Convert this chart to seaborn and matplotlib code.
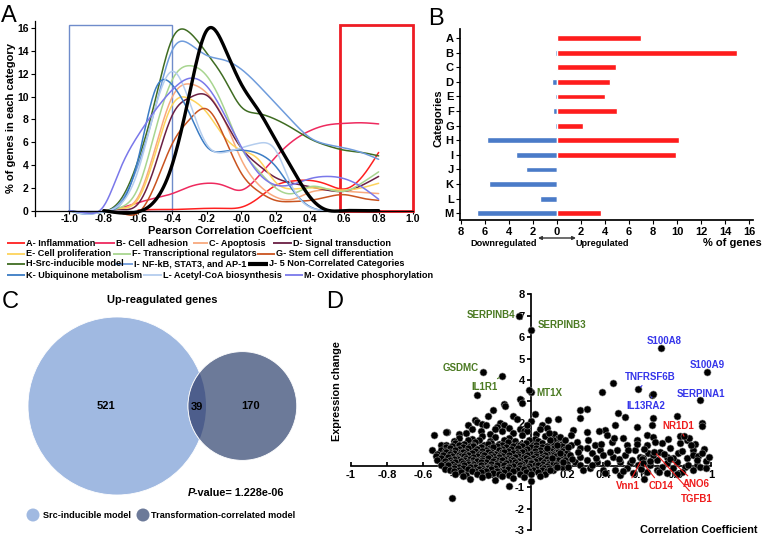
import numpy as np
import pandas as pd
import matplotlib
matplotlib.use('Agg')
import matplotlib.pyplot as plt
import seaborn as sns
from matplotlib.patches import Circle, Rectangle

sns.set_theme(style='white')
plt.rcParams['font.family'] = ['Liberation Sans', 'DejaVu Sans']
plt.rcParams.update({'text.color': 'black', 'axes.labelcolor': 'black',
                     'xtick.color': 'black', 'ytick.color': 'black',
                     'axes.edgecolor': 'black'})

# ---------------- DATA ----------------
# Panel A: % of genes per category vs Pearson correlation (values at 0.1 steps)
corr_grid = [-1.0, -0.9, -0.8, -0.7, -0.6, -0.5, -0.4, -0.3, -0.2, -0.1,
             0.0, 0.1, 0.2, 0.3, 0.4, 0.5, 0.6, 0.7, 0.8]
nan = np.nan
cat_A = [nan, nan, nan, nan, 0.05, 0.1, 0.1, 0.15, 0.2, 0.2, 0.3, 1.1, 2.2, 2.6, 2.65, 2.3, 1.9, 2.9, 5.1]
cat_B = [nan, nan, 0.0, 0.25, 0.7, 1.1, 1.5, 2.1, 2.4, 2.2, 1.8, 3.0, 4.7, 6.1, 7.0, 7.5, 7.65, 7.7, 7.6]
cat_C = [nan, nan, 0.0, 0.2, 1.2, 5.5, 10.0, 11.1, 10.3, 8.0, 4.5, 2.3, 1.2, 1.0, 1.6, 1.8, 1.7, 1.6, 1.5]
cat_D = [nan, nan, 0.0, 0.1, 0.6, 4.0, 8.4, 9.9, 10.1, 8.0, 5.5, 4.0, 2.9, 2.4, 2.1, 1.8, 1.7, 2.2, 3.0]
cat_E = [nan, nan, 0.0, 0.2, 1.0, 5.0, 9.3, 9.8, 8.6, 6.5, 5.3, 4.5, 2.5, 1.9, 2.0, 1.9, 1.8, 2.0, 2.4]
cat_F = [nan, nan, 0.0, 0.3, 2.0, 7.0, 11.5, 12.7, 11.8, 9.0, 5.5, 3.5, 2.0, 1.5, 2.1, 1.9, 1.7, 2.4, 3.4]
cat_G = [nan, nan, 0.0, -0.2, -0.2, 2.3, 5.9, 8.0, 8.9, 6.5, 3.3, 1.7, 0.9, 0.8, 0.9, 1.2, 1.4, 1.1, 0.9]
cat_H = [0.0, -0.2, -0.1, 1.0, 4.4, 9.7, 15.1, 15.6, 13.8, 11.6, 9.1, 8.5, 8.0, 7.2, 6.3, 5.7, 5.3, 5.1, 4.8]
cat_I = [0.0, -0.25, -0.1, 0.8, 4.0, 9.0, 14.1, 14.6, 13.6, 13.2, 12.4, 11.0, 9.4, 7.8, 6.4, 5.8, 5.5, 5.1, 4.5]
cat_J = [nan, nan, 0.0, -0.2, -0.1, 0.9, 4.1, 10.3, 15.8, 14.4, 11.1, 8.8, 6.2, 3.6, 1.2, 0.05, 0.0, 0.0, 0.0]
cat_K = [0.0, -0.3, -0.1, 0.6, 4.5, 10.6, 11.0, 8.5, 5.6, 5.2, 5.3, 5.0, 3.9, 1.8, 0.35, 0.0, 0.0, 0.0, 0.0]
cat_L = [0.0, -0.3, -0.1, 0.6, 3.5, 9.0, 12.2, 9.5, 5.8, 5.1, 5.5, 5.9, 5.3, 2.0, 0.3, 0.0, 0.0, 0.0, 0.0]
cat_M = [0.0, -0.2, 0.4, 3.8, 6.6, 8.8, 10.6, 11.6, 10.9, 8.5, 5.6, 3.3, 2.25, 2.3, 2.8, 3.0, 2.8, 2.1, 1.0]

legend_labels = ['A- Inflammation', 'B- Cell adhesion', 'C- Apoptosis', 'D- Signal transduction',
                 'E- Cell proliferation', 'F- Transcriptional regulators', 'G- Stem cell differentiation',
                 'H-Src-inducible model', 'I- NF-kB, STAT3, and AP-1', 'J- 5 Non-Correlated Categories',
                 'K- Ubiquinone metabolism', 'L- Acetyl-CoA biosynthesis', 'M- Oxidative phosphorylation']
cat_colors = ['#ff2020', '#ee2a5e', '#f8a97e', '#6a1f43', '#fdd35c', '#a8d590', '#c9531f',
              '#3f6c22', '#6f9cdc', '#000000', '#3b7cc4', '#b4cdee', '#7a78ea']

# Panel B: % of genes up/down regulated per category
categories = list('ABCDEFGHIJKLM')
up_pct = [7.0, 15.0, 4.9, 4.4, 4.0, 5.0, 2.2, 10.2, 9.9, 0.0, 0.0, 0.0, 3.7]
down_pct = [0.1, 0.15, 0.1, 0.45, 0.15, 0.3, 0.2, 5.85, 3.4, 2.55, 5.65, 1.45, 6.65]
down_colors = ['#b8cdea', '#4a7bc8', '#b8cdea', '#4a7bc8', '#4a7bc8', '#4a7bc8', '#4a7bc8',
               '#4a7bc8', '#4a7bc8', '#4a7bc8', '#4a7bc8', '#4a7bc8', '#4a7bc8']
b_ticks = [-8, -6, -4, -2, 0, 2, 4, 6, 8, 10, 12, 14, 16]

# Panel C: Venn counts
venn_only_src = 521
venn_both = 39
venn_only_tr = 170

# Panel D: labelled genes
genes = ['SERPINB4', 'SERPINB3', 'GSDMC', 'IL1R1', 'MT1X',
         'S100A8', 'S100A9', 'TNFRSF6B', 'IL13RA2', 'SERPINA1',
         'NR1D1', 'Vnn1', 'CD14', 'TGFB1', 'ANO6']
gene_corr = [-0.065, 0.0, -0.265, -0.163, -0.01, 0.721, 0.977, 0.597, 0.68, 0.939,
             0.85, 0.615, 0.62, 0.686, 0.773]
gene_expr = [7.0, 6.34, 4.39, 4.19, 3.52, 5.51, 4.39, 3.58, 3.33, 3.07,
             1.38, 0.3, 0.14, 0.65, 0.3]
gene_group = ['g', 'g', 'g', 'g', 'g', 'b', 'b', 'b', 'b', 'b', 'r', 'r', 'r', 'r', 'r']

# Panel D: other genes (correlation, expression change)
other_pts = [
    # upper tail / left fringe
    (-0.3, 3.3), (-0.06, 3.1), (-0.05, 2.95), (-0.15, 2.9), (-0.145, 2.8), (-0.21, 2.6),
    (-0.24, 2.3), (-0.31, 2.13), (-0.3, 2.05), (-0.27, 1.96), (-0.25, 1.88), (-0.17, 1.98),
    (-0.15, 1.9), (-0.1, 2.3), (-0.08, 2.2), (-0.06, 1.7), (-0.04, 1.6), (-0.02, 1.62),
    (0.0, 2.1), (0.02, 2.4), (0.0, 3.45), (-0.19, 1.8), (-0.35, 1.9), (-0.4, 1.5),
    (-0.465, 1.59), (-0.54, 1.43), (-0.47, 1.58), (-0.55, 0.73), (-0.5, 0.97), (-0.43, 0.9),
    (-0.12, 1.75), (0.06, 1.9), (-0.44, -1.5), (-0.12, -0.95), (0.0, -0.7), (-0.2, -0.65),
    (-0.33, 1.7), (-0.28, 1.6), (-0.23, 1.5), (-0.2, 1.7), (-0.1, 1.55), (-0.02, 1.9),
    (0.03, 1.5), (0.09, 1.75), (0.13, 1.5),
    # dense cloud
    (-0.4, 1.3), (-0.33, 1.25), (-0.27, 1.4), (-0.2, 1.35), (-0.12, 1.3), (-0.05, 1.45),
    (0.02, 1.25), (0.08, 1.4), (0.15, 1.3), (-0.36, 1.55), (-0.16, 1.6), (0.05, 1.7), (0.1, 1.55),
    (-0.43, 1.15), (-0.35, 1.18), (-0.29, 1.2), (-0.23, 1.15), (-0.15, 1.2), (-0.09, 1.15),
    (-0.01, 1.18), (0.04, 1.15), (0.12, 1.18),
    (-0.47, 0.95), (-0.42, 1.05), (-0.37, 1.0), (-0.31, 1.1), (-0.26, 0.95), (-0.22, 1.05),
    (-0.18, 1.0), (-0.13, 1.1), (-0.08, 0.98), (-0.03, 1.05), (0.01, 0.95), (0.06, 1.08),
    (0.11, 1.0), (0.17, 1.02), (0.22, 0.95),
    (-0.4, 0.96), (-0.32, 0.98), (-0.24, 1.0), (-0.16, 0.95), (-0.06, 0.97), (0.03, 0.95), (0.13, 0.97),
    (-0.44, 0.9), (-0.34, 0.92), (-0.28, 0.88), (-0.19, 0.93), (-0.1, 0.9), (0.0, 0.88),
    (0.09, 0.92), (0.15, 0.9),
    (-0.47, 0.86), (-0.38, 0.88), (-0.32, 0.9), (-0.23, 0.84), (-0.14, 0.87), (-0.05, 0.9),
    (0.06, 0.86), (0.17, 0.9),
    (-0.5, 0.75), (-0.45, 0.82), (-0.4, 0.78), (-0.35, 0.85), (-0.3, 0.8), (-0.25, 0.75),
    (-0.21, 0.86), (-0.16, 0.8), (-0.11, 0.76), (-0.07, 0.84), (-0.02, 0.79), (0.03, 0.82),
    (0.08, 0.75), (0.13, 0.85), (0.19, 0.8),
    (-0.48, 0.68), (-0.42, 0.72), (-0.36, 0.7), (-0.27, 0.68), (-0.18, 0.72), (-0.13, 0.68),
    (-0.04, 0.7), (0.05, 0.72), (0.11, 0.68), (0.17, 0.7),
    (-0.45, 0.66), (-0.39, 0.62), (-0.31, 0.67), (-0.22, 0.65), (-0.16, 0.66), (-0.08, 0.64),
    (0.02, 0.67), (0.08, 0.63), (0.14, 0.66),
    (-0.52, 0.55), (-0.47, 0.62), (-0.43, 0.58), (-0.38, 0.64), (-0.33, 0.6), (-0.29, 0.55),
    (-0.24, 0.63), (-0.2, 0.57), (-0.15, 0.62), (-0.1, 0.58), (-0.05, 0.64), (0.0, 0.57),
    (0.05, 0.6), (0.1, 0.55), (0.15, 0.63), (0.2, 0.58),
    (-0.45, 0.55), (-0.36, 0.56), (-0.27, 0.57), (-0.22, 0.54), (-0.07, 0.55), (0.03, 0.56), (0.12, 0.57),
    (-0.49, 0.48), (-0.4, 0.52), (-0.35, 0.5), (-0.26, 0.48), (-0.17, 0.52), (-0.12, 0.5),
    (-0.02, 0.48), (0.08, 0.52), (0.13, 0.5),
    (-0.53, 0.45), (-0.44, 0.47), (-0.39, 0.45), (-0.3, 0.46), (-0.21, 0.47), (-0.16, 0.45),
    (-0.07, 0.46), (0.03, 0.45), (0.14, 0.47), (0.18, 0.45),
    (-0.5, 0.38), (-0.46, 0.42), (-0.41, 0.37), (-0.37, 0.44), (-0.32, 0.4), (-0.27, 0.36),
    (-0.23, 0.43), (-0.18, 0.39), (-0.13, 0.35), (-0.09, 0.43), (-0.04, 0.4), (0.01, 0.36),
    (0.06, 0.42), (0.11, 0.38), (0.16, 0.44), (0.21, 0.4),
    (-0.41, 0.33), (-0.36, 0.35), (-0.24, 0.34), (-0.11, 0.33), (-0.03, 0.35), (0.07, 0.34),
    (-0.52, 0.28), (-0.43, 0.32), (-0.34, 0.3), (-0.29, 0.28), (-0.2, 0.32), (-0.15, 0.3),
    (-0.06, 0.28), (0.04, 0.32), (0.09, 0.3), (0.19, 0.28),
    (-0.45, 0.26), (-0.37, 0.25), (-0.32, 0.27), (-0.27, 0.25), (-0.18, 0.26), (-0.1, 0.25),
    (-0.01, 0.27), (0.05, 0.25), (0.15, 0.26),
    (-0.48, 0.2), (-0.44, 0.15), (-0.39, 0.22), (-0.35, 0.18), (-0.3, 0.24), (-0.25, 0.16),
    (-0.21, 0.2), (-0.16, 0.25), (-0.12, 0.17), (-0.07, 0.22), (-0.03, 0.15), (0.02, 0.24),
    (0.07, 0.18), (0.12, 0.22), (0.17, 0.16),
    (-0.42, 0.15), (-0.33, 0.14), (-0.28, 0.16), (-0.19, 0.14), (-0.09, 0.15), (0.0, 0.16), (0.1, 0.15),
    (-0.47, 0.1), (-0.38, 0.12), (-0.32, 0.08), (-0.22, 0.1), (-0.14, 0.12), (-0.05, 0.08),
    (0.0, 0.12), (0.1, 0.1), (0.2, 0.08),
    (-0.5, 0.05), (-0.44, 0.07), (-0.35, 0.06), (-0.26, 0.05), (-0.17, 0.07), (-0.08, 0.06),
    (0.02, 0.05), (0.06, 0.07), (0.12, 0.06), (0.18, 0.04),
    (-0.46, 0.02), (-0.42, -0.03), (-0.37, 0.04), (-0.33, -0.02), (-0.28, 0.03), (-0.24, -0.04),
    (-0.19, 0.01), (-0.15, 0.05), (-0.1, -0.03), (-0.06, 0.02), (-0.01, -0.02), (0.04, 0.04),
    (0.09, -0.01), (0.14, 0.03),
    (-0.4, -0.05), (-0.31, -0.06), (-0.22, -0.05), (-0.13, -0.06), (-0.04, -0.05), (0.06, -0.06), (0.19, -0.04),
    (-0.43, -0.1), (-0.34, -0.08), (-0.27, -0.12), (-0.2, -0.1), (-0.12, -0.08), (-0.02, -0.12),
    (0.07, -0.1), (0.17, -0.08),
    (-0.48, -0.14), (-0.38, -0.13), (-0.29, -0.15), (-0.24, -0.12), (-0.15, -0.14), (-0.06, -0.13),
    (0.03, -0.14), (0.1, -0.13),
    (-0.45, -0.18), (-0.4, -0.22), (-0.35, -0.16), (-0.31, -0.24), (-0.26, -0.19), (-0.22, -0.15),
    (-0.17, -0.23), (-0.13, -0.17), (-0.08, -0.21), (-0.04, -0.16), (0.01, -0.22), (0.06, -0.18),
    (0.12, -0.2),
    (-0.43, -0.26), (-0.33, -0.27), (-0.25, -0.25), (-0.19, -0.27), (-0.1, -0.26), (-0.01, -0.25), (0.09, -0.27),
    (-0.39, -0.3), (-0.28, -0.28), (-0.21, -0.32), (-0.15, -0.3), (-0.03, -0.28), (0.04, -0.3),
    (-0.42, -0.38), (-0.36, -0.42), (-0.3, -0.37), (-0.24, -0.44), (-0.18, -0.39), (-0.12, -0.43),
    (-0.06, -0.37), (0.0, -0.41), (0.08, -0.38), (-0.34, -0.6), (-0.1, -0.58),
    (-0.38, -0.5), (-0.27, -0.52), (-0.16, -0.5), (-0.04, -0.52), (0.05, -0.5),
    # right side
    (0.096, 2.13), (0.152, 2.17), (0.272, 2.6), (0.309, 2.63), (0.272, 2.21), (0.393, 3.46),
    (0.458, 3.88), (0.671, 3.3), (0.485, 2.45), (0.523, 2.26), (0.676, 2.21), (0.81, 2.32),
    (0.587, 1.79), (0.671, 1.9), (0.467, 1.9), (0.411, 1.67), (0.421, 1.43), (0.309, 1.59),
    (0.235, 1.67), (0.161, 1.36), (0.189, 1.2), (0.254, 1.12), (0.319, 1.2), (0.356, 0.97),
    (0.272, 0.81), (0.208, 0.89), (0.143, 0.97), (0.106, 1.2), (0.087, 0.81), (0.384, 0.73),
    (0.448, 1.12), (0.513, 1.28), (0.532, 0.97), (0.476, 0.73), (0.587, 1.2), (0.643, 1.43),
    (0.68, 1.36), (0.726, 1.05), (0.643, 0.97), (0.578, 0.73), (0.523, 0.5), (0.458, 0.42),
    (0.402, 0.5), (0.337, 0.58), (0.272, 0.42), (0.217, 0.5), (0.161, 0.58), (0.115, 0.34),
    (0.18, 0.19), (0.245, 0.19), (0.309, 0.27), (0.365, 0.19), (0.421, 0.11), (0.495, 0.19),
    (0.55, 0.11), (0.606, 0.42), (0.652, 0.58), (0.717, 0.66), (0.773, 0.81), (0.828, 1.05),
    (0.865, 1.2), (0.819, 0.58), (0.754, 0.42), (0.699, 0.27), (0.754, 0.11), (0.81, 0.19),
    (0.865, 0.34), (0.902, 0.73), (0.921, 0.03), (0.856, -0.05), (0.791, -0.12), (0.726, -0.05),
    (0.661, 0.03), (0.597, 0.03), (0.532, -0.12), (0.467, -0.2), (0.402, -0.2), (0.328, -0.12),
    (0.272, 0.03), (0.208, -0.05), (0.143, -0.05), (0.106, -0.2), (0.569, -0.36), (0.643, -0.28),
    (0.699, -0.2), (0.495, -0.43), (0.754, -0.36), (0.837, -0.28), (0.902, -0.2), (0.624, 0.35),
    (0.68, 0.5), (0.63, -0.6), (0.95, 1.98), (0.95, 1.85), (0.91, 1.0), (0.96, 0.8), (0.9, 0.5),
    (0.93, 0.45), (0.97, 0.2), (0.94, -0.05), (0.83, 1.4), (0.88, 1.3),
    (0.23, 0.3), (0.26, 0.62), (0.29, -0.2), (0.31, 0.85), (0.34, 0.05), (0.36, 0.38),
    (0.39, 1.0), (0.41, -0.35), (0.44, 0.65), (0.46, 1.3), (0.49, 0.3), (0.51, -0.25),
    (0.54, 0.75), (0.56, 0.25), (0.59, 1.0), (0.61, -0.15), (0.63, 0.8), (0.66, 0.2),
    (0.69, 1.1), (0.71, -0.3), (0.74, 0.55), (0.76, 1.25), (0.79, 0.35), (0.81, -0.4),
    (0.84, 0.7), (0.87, 0.05), (0.89, 0.95), (0.92, 0.25), (0.95, 0.6), (0.97, -0.1),
    (0.99, 0.4), (0.22, 1.45), (0.38, 1.6),
]
other_corr = [p[0] for p in other_pts]
other_expr = [p[1] for p in other_pts]

# ---------------- FIGURE ----------------
W, H = 762, 537
fig = plt.figure(figsize=(W / 100, H / 100), dpi=100)


def ax_px(l, t, r, b):
    return fig.add_axes([l / W, 1 - b / H, (r - l) / W, (b - t) / H])


def smooth(xs, ys, n=300):
    x = np.asarray(xs, float)
    y = np.asarray(ys, float)
    m = ~np.isnan(y)
    x, y = x[m], y[m]
    k = len(x)
    h = np.diff(x)
    A = np.zeros((k, k))
    r = np.zeros(k)
    A[0, 0] = A[-1, -1] = 1
    for i in range(1, k - 1):
        A[i, i - 1] = h[i - 1]
        A[i, i] = 2 * (h[i - 1] + h[i])
        A[i, i + 1] = h[i]
        r[i] = 3 * ((y[i + 1] - y[i]) / h[i] - (y[i] - y[i - 1]) / h[i - 1])
    c = np.linalg.solve(A, r)
    b = (y[1:] - y[:-1]) / h - h * (2 * c[:-1] + c[1:]) / 3
    d = (c[1:] - c[:-1]) / (3 * h)
    xx = np.linspace(x[0], x[-1], n)
    idx = np.clip(np.searchsorted(x, xx) - 1, 0, k - 2)
    dx = xx - x[idx]
    return xx, y[idx] + b[idx] * dx + c[idx] * dx ** 2 + d[idx] * dx ** 3


BOLD = dict(fontweight='bold')

# ---- Panel A ----
axA = ax_px(35, 21.2, 413, 215.8)
curves = [cat_A, cat_B, cat_C, cat_D, cat_E, cat_F, cat_G, cat_H, cat_I, cat_K, cat_L, cat_M, cat_J]
cols = cat_colors[:9] + cat_colors[10:] + [cat_colors[9]]
for vals, col in zip(curves, cols):
    xx, yy = smooth(corr_grid, vals)
    sns.lineplot(x=xx, y=yy, ax=axA, color=col, lw=2.4 if col == '#000000' else 1.1,
                 sort=False, legend=False)
axA.add_patch(Rectangle((-1.0, 0), 0.6, 16.3, fill=False, ec='#6f8ccb', lw=1.0, clip_on=False))
axA.add_patch(Rectangle((0.578, 0), 0.422, 16.3, fill=False, ec='#ee1c24', lw=2.0, clip_on=False))
axA.set_xlim(-1.2, 1.0)
axA.set_ylim(-0.45, 16.6)
for s in ['top', 'right']:
    axA.spines[s].set_visible(False)
axA.spines['bottom'].set_position(('data', 0))
axA.spines['left'].set_linewidth(0.9)
axA.spines['bottom'].set_linewidth(0.9)
axA.set_xticks(np.round(np.arange(-1.0, 1.01, 0.2), 1))
axA.set_xticklabels([f'{t:.1f}' for t in np.arange(-1.0, 1.01, 0.2)])
axA.set_yticks(range(0, 17, 2))
axA.tick_params(axis='x', labelsize=7.5, length=2, width=0.8, pad=0.5, bottom=True)
axA.tick_params(axis='y', labelsize=7.5, length=3, width=0.8, pad=1.5, left=True)
for lab in axA.get_xticklabels() + axA.get_yticklabels():
    lab.set_fontweight('bold')
axA.set_xlabel('')
axA.set_ylabel('')

# ---- Panel B ----
axB = ax_px(460, 29.3, 753, 220.3)
down_neg = [-v for v in down_pct]
sns.barplot(x=down_neg, y=categories, hue=categories, palette=down_colors, legend=False,
            orient='h', width=0.4, ax=axB, saturation=1)
sns.barplot(x=up_pct, y=categories, color='#fe1c1c', orient='h', width=0.4, ax=axB, saturation=1)
axB.set_xlim(-8.08, 16.33)
axB.set_ylim(12.48, -0.6)
for s in ['top', 'right']:
    axB.spines[s].set_visible(False)
axB.set_xticks(b_ticks)
axB.set_xticklabels([str(abs(t)) for t in b_ticks])
axB.tick_params(axis='both', labelsize=8, length=3, width=0.8, pad=1.5, bottom=True, left=True)
for lab in axB.get_xticklabels() + axB.get_yticklabels():
    lab.set_fontweight('bold')
axB.set_xlabel('')
axB.set_ylabel('')

# ---- Panel D ----
axD = ax_px(342, 290.2, 720, 534.2)
sns.scatterplot(x=other_corr, y=other_expr, ax=axD, color='black', s=26,
                edgecolor='#8c8c8c', linewidth=0.4, legend=False, zorder=3)
sns.scatterplot(x=gene_corr, y=gene_expr, ax=axD, color='black', s=26,
                edgecolor='#8c8c8c', linewidth=0.4, legend=False, zorder=3)
axD.set_xlim(-1.05, 1.05)
axD.set_ylim(-3.2, 8.2)
axD.set_axisbelow(True)
for s in ['top', 'right']:
    axD.spines[s].set_visible(False)
axD.spines['left'].set_position(('data', 0))
axD.spines['bottom'].set_position(('data', 0))
axD.spines['left'].set_bounds(-3, 8)
axD.spines['bottom'].set_bounds(-1, 1)
xt = np.round(np.arange(-1.0, 1.01, 0.2), 1)
axD.set_xticks(xt)
axD.set_xticklabels(['-1', '-0.8', '-0.6', '-0.4', '-0.2', '0', '0.2', '0.4', '0.6', '0.8', '1'])
yt = [-3, -2, -1, 1, 2, 3, 4, 5, 6, 7, 8]
axD.set_yticks(yt)
axD.set_yticklabels([str(t) for t in yt])
axD.tick_params(axis='x', direction='in', length=3, labelsize=8, pad=3, bottom=True)
axD.tick_params(axis='y', direction='out', length=3, labelsize=8, pad=1.5, left=True)
for lab in axD.get_xticklabels() + axD.get_yticklabels():
    lab.set_fontweight('bold')
axD.set_xlabel('')
axD.set_ylabel('')

grp_col = {'g': '#4b7a22', 'b': '#3535ea', 'r': '#ee1c1c'}
label_pos = {
    'SERPINB4': (-0.085, 7.04, 'right', False), 'SERPINB3': (0.035, 6.57, 'left', False),
    'GSDMC': (-0.29, 4.57, 'right', False), 'IL1R1': (-0.26, 3.68, 'center', True),
    'MT1X': (0.03, 3.41, 'left', False), 'S100A8': (0.739, 5.84, 'center', False),
    'S100A9': (0.981, 4.69, 'center', False), 'TNFRSF6B': (0.664, 4.13, 'center', True),
    'IL13RA2': (0.636, 2.79, 'center', True), 'SERPINA1': (0.942, 3.34, 'center', False),
    'NR1D1': (0.82, 1.86, 'center', True), 'Vnn1': (0.536, -0.95, 'center', True),
    'CD14': (0.723, -0.95, 'center', True), 'TGFB1': (0.921, -1.56, 'center', True),
    'ANO6': (0.92, -0.86, 'center', True),
}
for g, gx, gy, grp in zip(genes, gene_corr, gene_expr, gene_group):
    tx, ty, ha, line = label_pos[g]
    c = grp_col[grp]
    if line:
        axD.annotate(g, xy=(gx, gy), xytext=(tx, ty), ha=ha, va='center', fontsize=7,
                     fontweight='bold', color=c, zorder=5,
                     arrowprops=dict(arrowstyle='-', color=c, lw=0.8, shrinkA=0, shrinkB=2))
    else:
        axD.text(tx, ty, g, ha=ha, va='center', fontsize=7, fontweight='bold', color=c, zorder=5)

# ---- Overlay (pixel coordinates) ----
ov = fig.add_axes([0, 0, 1, 1])
ov.set_xlim(0, W)
ov.set_ylim(H, 0)
ov.axis('off')

for lab, (x, y) in zip('ABCD', [(9, 16), (436, 19), (10, 302), (335, 302)]):
    ov.text(x, y, lab, fontsize=17, ha='center', va='center')

# Panel A labels
ov.text(11, 118, '% of genes in each category', rotation=90, ha='center', va='center',
        fontsize=8, **BOLD)
ov.text(230, 231, 'Pearson Correlation Coeffcient', ha='center', va='center', fontsize=8, **BOLD)

# Panel A legend (manual rows)
leg_layout = [
    (243, [(0, 7, 25), (1, 95, 115), (2, 193, 208), (3, 273, 292)]),
    (254, [(4, 7, 25), (5, 113, 131), (6, 257, 275)]),
    (264, [(7, 7, 25), (8, 115, 133), (9, 248, 268)]),
    (275, [(10, 7, 25), (11, 143, 162), (12, 285, 303)]),
]
for y, items in leg_layout:
    for i, x0, x1 in items:
        ov.plot([x0, x1], [y, y], color=cat_colors[i], lw=3.0 if i == 9 else 1.3,
                solid_capstyle='butt')
        ov.text(x1 + 1, y, legend_labels[i], ha='left', va='center', fontsize=6.6, **BOLD)

# Panel B labels
ov.text(438, 118, 'Categories', rotation=90, ha='center', va='center', fontsize=8, **BOLD)
ov.text(537, 244, 'Downregulated', ha='right', va='center', fontsize=6.6, **BOLD)
ov.text(575, 244, 'Upregulated', ha='left', va='center', fontsize=6.6, **BOLD)
ov.annotate('', xy=(538, 238), xytext=(576, 238),
            arrowprops=dict(arrowstyle='<|-|>', color='#333333', lw=1.0, mutation_scale=5,
                            shrinkA=0, shrinkB=0))
ov.text(703, 243, '% of genes', ha='left', va='center', fontsize=8, **BOLD)

# Panel C: Venn diagram
k = 89 / np.sqrt(venn_only_src + venn_both)
r_big = k * np.sqrt(venn_only_src + venn_both)
r_small = k * np.sqrt(venn_only_tr + venn_both)
cx_big, cy = 117, 406
cx_small = cx_big + r_big + r_small - 18
big = Circle((cx_big, cy), r_big, fc='#a0b9e1', ec='white', lw=0.6)
small = Circle((cx_small, cy), r_small, fc='#6c7a99', ec='white', lw=0.6)
inter = Circle((cx_small, cy), r_small, fc='#4d5e8c', ec='white', lw=0.6)
ov.add_patch(big)
ov.add_patch(small)
ov.add_patch(inter)
inter.set_clip_path(big)
mid_overlap = ((cx_big + r_big) + (cx_small - r_small)) / 2
ov.text(cx_big - 11, cy, str(venn_only_src), ha='center', va='center', fontsize=8, **BOLD)
ov.text(mid_overlap, cy + 1, str(venn_both), ha='center', va='center', fontsize=8, **BOLD)
ov.text(cx_small + 8, cy, str(venn_only_tr), ha='center', va='center', fontsize=8, **BOLD)
ov.text(162, 300, 'Up-reagulated genes', ha='center', va='center', fontsize=8, **BOLD)
ov.text(188, 493, 'P', ha='left', va='center', fontsize=7.8, style='italic', **BOLD)
ov.text(194.5, 493, '-value= 1.228e-06', ha='left', va='center', fontsize=7.8, **BOLD)
ov.add_patch(Circle((33, 515), 6.5, fc='#a0b9e1', ec='none'))
ov.text(43, 515, 'Src-inducible model', ha='left', va='center', fontsize=6.6, **BOLD)
ov.add_patch(Circle((143, 515), 6.5, fc='#6c7a99', ec='none'))
ov.text(151, 515, 'Transformation-correlated model', ha='left', va='center', fontsize=6.6, **BOLD)

# Panel D labels
ov.text(337, 391, 'Expression change', rotation=90, ha='center', va='center', fontsize=7.8, **BOLD)
ov.text(757, 530, 'Correlation Coefficient', ha='right', va='center', fontsize=7.8, **BOLD)

fig.savefig('out.png', dpi=100)
